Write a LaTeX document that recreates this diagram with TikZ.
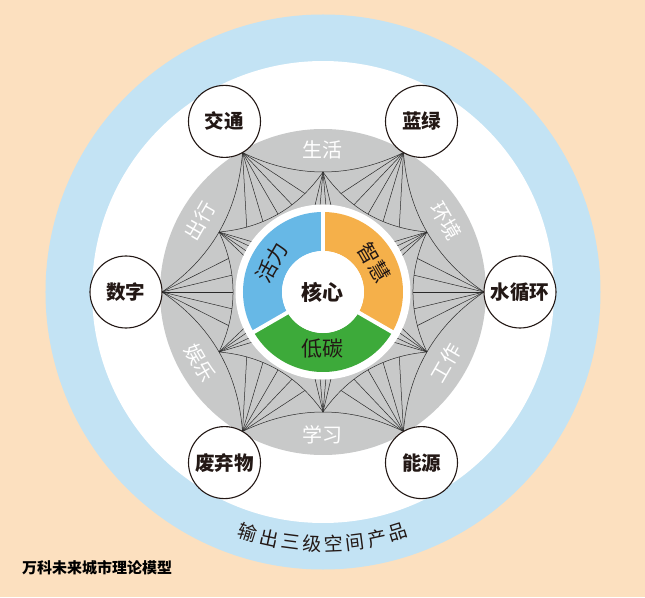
\documentclass[tikz,border=0pt]{standalone}
\usepackage{fontspec}
\setmainfont{Noto Sans CJK SC}
\newfontfamily\cjk{Noto Sans CJK SC}
\usetikzlibrary{calc}
\definecolor{bgpeach}{HTML}{FCE0BF}
\definecolor{ringblue}{HTML}{C3E3F4}
\definecolor{ringgray}{HTML}{C8C9C9}
\definecolor{segblue}{HTML}{67B8E6}
\definecolor{segorange}{HTML}{F5B04A}
\definecolor{seggreen}{HTML}{3DAA3A}
\definecolor{inkdark}{HTML}{231815}
\definecolor{webline}{HTML}{2A2A2A}
\tikzset{
  outernode/.style={circle, draw=inkdark, fill=white, line width=1.1pt, minimum size=72pt, inner sep=0pt, text=inkdark, font=\cjk\bfseries\fontsize{19.5}{19.5}\selectfont},
  bandlbl/.style={text=white, inner sep=0pt, font=\cjk\fontsize{20}{20}\selectfont},
  seglbl/.style={text=inkdark, inner sep=0pt, font=\cjk\fontsize{21}{21}\selectfont},
  arclbl/.style={text=inkdark, inner sep=0pt, font=\cjk\fontsize{19}{19}\selectfont},
  webcurve/.style={draw=webline, line width=0.5pt},
}
\begin{document}
\begin{tikzpicture}[x=1pt,y=1pt]
\fill[bgpeach] (-323,-305) rectangle (322,292);
\useasboundingbox (-323,-305) rectangle (322,292);
\fill[ringblue] (0,0) circle (277.5);
\fill[white] (0,0) circle (231);
\fill[ringgray] (0,0) circle (163);

% web vertices
\foreach \k in {0,...,5} {
  \coordinate (O\k) at ({60*\k}:161);
  \coordinate (I\k) at ({60*\k+30}:120);
  \coordinate (BC\k) at ({60*\k+30}:100.6);
  \coordinate (IC\k) at ({60*\k+60}:76);
}
% band arcs and inner arcs
\foreach \k in {0,...,5} {
  \pgfmathtruncatemacro\kn{mod(\k+1,6)}
  \draw[webcurve] (O\k) .. controls ($(O\k)!0.6667!(BC\k)$) and ($(O\kn)!0.6667!(BC\k)$) .. (O\kn);
  \draw[webcurve] (I\k) .. controls ($(I\k)!0.6667!(IC\k)$) and ($(I\kn)!0.6667!(IC\k)$) .. (I\kn)
     coordinate[pos=0.22] (A\k a) coordinate[pos=0.36] (A\k b) coordinate[pos=0.5] (A\k c)
     coordinate[pos=0.64] (A\k d) coordinate[pos=0.78] (A\k e);
  \foreach \p in {a,b,c,d,e} {
    \draw[webcurve] (O\kn) -- (A\k \p);
  }
  \foreach \d in {-7,-2.5,2.5,7} {
    \coordinate (F\k) at ({60*\k+30+\d}:80);
    \draw[webcurve] (I\k) -- (F\k);
  }
}

% inner ring
\fill[white] (0,0) circle (87.5);
\fill[segblue] (90:80) arc (90:210:80) -- (210:41) arc (210:90:41) -- cycle;
\fill[segorange] (-30:80) arc (-30:90:80) -- (90:41) arc (90:-30:41) -- cycle;
\fill[seggreen] (210:80) arc (210:330:80) -- (330:41) arc (330:210:41) -- cycle;
\foreach \a in {90,210,330} {
  \draw[white, line width=4pt] (0,0) -- (\a:84);
}
\fill[white] (0,0) circle (41);

\node[text=inkdark, font=\cjk\bfseries\fontsize{21}{21}\selectfont] (core) at (0,0) {核心};
\node[seglbl, rotate=60] (vit) at (150:59) {活力};
\node[seglbl, rotate=-60] (wis) at (30:59) {智慧};
\node[seglbl] (low) at (270:57) {低碳};

% band labels
\node[bandlbl] (b1) at (90:142) {生活};
\node[bandlbl, rotate=-60] (b2) at (30:142) {环境};
\node[bandlbl, rotate=60] (b3) at (-30:142) {工作};
\node[bandlbl] (b4) at (270:143) {学习};
\node[bandlbl, rotate=-60] (b5) at (210:142) {娱乐};
\node[bandlbl, rotate=60] (b6) at (150:142) {出行};

% outer nodes
\node[outernode] (n0) at (0:197) {水循环};
\node[outernode] (n1) at (60:197) {蓝绿};
\node[outernode] (n2) at (120:197) {交通};
\node[outernode] (n3) at (180:197) {数字};
\node[outernode] (n4) at (240:197) {废弃物};
\node[outernode] (n5) at (300:197) {能源};

% arc text
\foreach \c [count=\i from 0] in {输,出,三,级,空,间,产,品} {
  \node[arclbl, rotate={342.7+\i*4.94}] (arc\i) at ({252.7+\i*4.94}:252) {\c};
}

\node[anchor=west, text=black, inner sep=0pt, font=\cjk\bfseries\fontsize{15}{15}\selectfont] (title) at (-301,-276) {万科未来城市理论模型};
\end{tikzpicture}
\end{document}
